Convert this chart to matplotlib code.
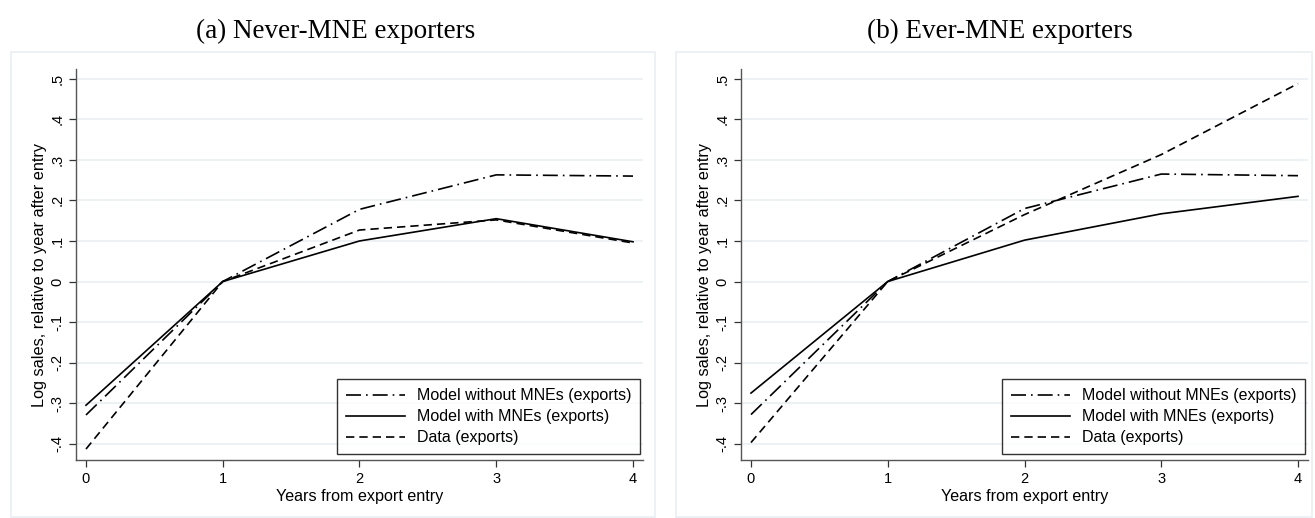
import matplotlib
matplotlib.use("Agg")
import matplotlib.pyplot as plt
from matplotlib.patches import Rectangle

# years from export entry
years = [0, 1, 2, 3, 4]

# (a) never-MNE exporters
never_no_mne = [-0.329, 0.0, 0.178, 0.263, 0.260]
never_mne = [-0.305, 0.0, 0.100, 0.155, 0.098]
never_data = [-0.413, 0.0, 0.127, 0.152, 0.095]

# (b) ever-MNE exporters
ever_no_mne = [-0.328, 0.0, 0.180, 0.265, 0.261]
ever_mne = [-0.275, 0.0, 0.102, 0.167, 0.210]
ever_data = [-0.397, 0.0, 0.165, 0.313, 0.488]

titles = ["(a) Never-MNE exporters", "(b) Ever-MNE exporters"]
labels = ["Model without MNEs (exports)", "Model with MNEs (exports)", "Data (exports)"]
yticks = [-0.4, -0.3, -0.2, -0.1, 0, 0.1, 0.2, 0.3, 0.4, 0.5]
ytick_labels = ["-.4", "-.3", "-.2", "-.1", "0", ".1", ".2", ".3", ".4", ".5"]

plt.rcParams['font.family'] = ['Liberation Sans', 'DejaVu Sans']
grid_col = '#e8eff2'

fig = plt.figure(figsize=(13.15, 5.18), dpi=100)
W, H = 1315.0, 518.0

def px(x0, y0, x1, y1):
    return [x0 / W, 1 - y1 / H, (x1 - x0) / W, (y1 - y0) / H]

panels = [
    (never_no_mne, never_mne, never_data, px(76, 69, 643, 460), px(11, 52, 655, 517), 336),
    (ever_no_mne, ever_mne, ever_data, px(741, 69, 1308, 460), px(676, 52, 1312, 517), 1000),
]

for i, (s1, s2, s3, rect, frame, tx) in enumerate(panels):
    fig.patches.append(Rectangle((frame[0], frame[1]), frame[2], frame[3],
                                 transform=fig.transFigure, fill=False,
                                 edgecolor=grid_col, lw=1.2, zorder=0))
    fig.text(tx / W, 1 - 38 / H, titles[i], ha='center', va='baseline',
             fontsize=19.5, family=['Liberation Serif', 'DejaVu Serif'])
    ax = fig.add_axes(rect)
    ax.plot(years, s1, color='black', lw=1.2, dashes=(9, 3, 1, 3), label=labels[0])
    ax.plot(years, s2, color='black', lw=1.2, linestyle='-', label=labels[1])
    ax.plot(years, s3, color='black', lw=1.2, dashes=(5, 3), label=labels[2])
    ax.set_xlim(-0.073, 4.073)
    ax.set_ylim(-0.44, 0.524)
    ax.set_xticks(years)
    ax.set_yticks(yticks)
    ax.set_yticklabels(ytick_labels, rotation=90, va='center')
    ax.tick_params(labelsize=10.5, direction='out', length=5, width=0.9, color='#333333')
    ax.grid(axis='y', color=grid_col, lw=1.2)
    ax.set_axisbelow(True)
    for s in ['top', 'right']:
        ax.spines[s].set_visible(False)
    for s in ['left', 'bottom']:
        ax.spines[s].set_color('#555555')
        ax.spines[s].set_linewidth(1.0)
    ax.set_xlabel("Years from export entry", fontsize=11.6, labelpad=2)
    ax.set_ylabel("Log sales, relative to year after entry", fontsize=11.7, va='center')
    ax.yaxis.set_label_coords(-0.064, 0.474)
    leg = ax.legend(loc='lower right', bbox_to_anchor=(0.9947, 0.0153), borderaxespad=0,
                    fontsize=11.5, frameon=True, fancybox=False, edgecolor='black',
                    handlelength=3.7, borderpad=0.55, labelspacing=0.38, handletextpad=0.75)
    leg.get_frame().set_linewidth(1.0)

fig.savefig("out.png", dpi=100)
